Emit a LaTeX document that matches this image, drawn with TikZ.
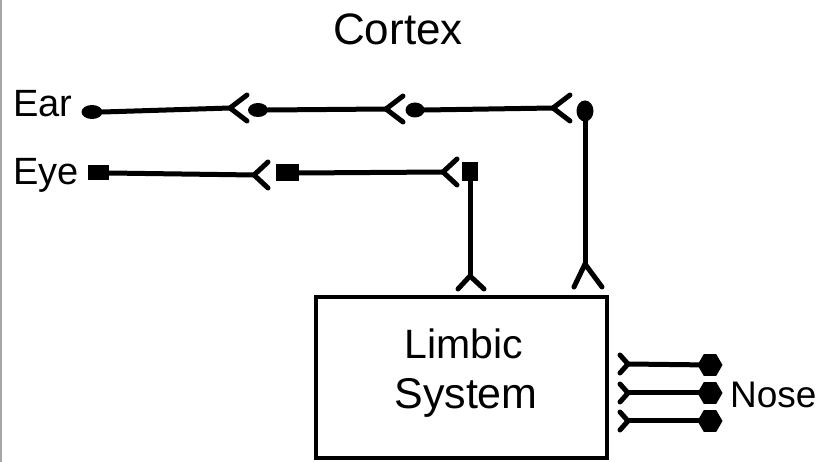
\documentclass[tikz,border=0pt]{standalone}
\usepackage{fontspec}
\setmainfont{Liberation Sans}
\usetikzlibrary{shapes.geometric,calc}
\begin{document}
\begin{tikzpicture}[x=1pt,y=-1pt,
  conn/.style={line width=5pt,line cap=round,line join=round},
  lab/.style={inner sep=0pt,font=\fontsize{38}{42}\selectfont},
  bigl/.style={inner sep=0pt,font=\fontsize{41}{46}\selectfont},
  oval/.style={ellipse,fill=black,inner sep=0pt},
  sq/.style={rectangle,fill=black,inner sep=0pt},
  hexa/.style={regular polygon,regular polygon sides=6,fill=black,inner sep=0pt,minimum size=25pt}]
\useasboundingbox (0,0) rectangle (823,462);
\draw[gray!70,line width=1.5pt] (1,0) -- (1,462);
% labels
\node[inner sep=0pt,font=\fontsize{44}{50}\selectfont,anchor=base] (cortex) at (398,45) {Cortex};
\node[lab,anchor=base west] (ear) at (13,117) {Ear};
\node[lab,anchor=base west] (eye) at (13,185) {Eye};
% box
\node[draw,line width=3.2pt,minimum width=291pt,minimum height=161pt,inner sep=0pt] (box) at (461.5,377.5) {};
\node[bigl,anchor=base] (limbic) at (464,359) {Limbic};
\node[inner sep=0pt,font=\fontsize{43}{46}\selectfont,anchor=base] (system) at (466,409) {System};
\node[inner sep=0pt,font=\fontsize{37}{42}\selectfont,anchor=base west] (nose) at (730,408) {Nose};
% Ear chain
\node[oval,minimum width=21pt,minimum height=14pt] (e1) at (92,112) {};
\node[oval,minimum width=20pt,minimum height=14pt] (e2) at (258,110) {};
\node[oval,minimum width=19pt,minimum height=15pt] (e3) at (415,110) {};
\node[oval,minimum width=17pt,minimum height=21pt] (e4) at (585,111) {};
\coordinate (f1) at (230,108);
\coordinate (f2) at (386,109);
\coordinate (f3) at (553,108);
\coordinate (f4) at (585,264);
\draw[conn] (e1.east) -- (f1);
\draw[conn] (e2.east) -- (f2);
\draw[conn] (e3.east) -- (f3);
\draw[conn] (e4.south) -- (f4);
\foreach \v in {f1,f2,f3}{
  \draw[conn] ($(\v)+(17,-13)$) -- (\v) -- ($(\v)+(17,13)$);
}
\draw[conn] ($(f4)+(-11,23)$) -- (f4) -- ($(f4)+(17,23)$);
% Eye chain
\node[sq,minimum width=21pt,minimum height=15pt] (s1) at (98,173) {};
\node[sq,minimum width=23pt,minimum height=17pt] (s2) at (287,173) {};
\node[sq,minimum width=16pt,minimum height=19pt] (s3) at (470,172) {};
\coordinate (g1) at (254,175);
\coordinate (g2) at (443,172);
\coordinate (g3) at (470,276);
\draw[conn] (s1.east) -- (g1);
\draw[conn] (s2.east) -- (g2);
\draw[conn] (s3.south) -- (g3);
\foreach \v in {g1,g2}{
  \draw[conn] ($(\v)+(14,-13)$) -- (\v) -- ($(\v)+(14,13)$);
}
\draw[conn] ($(g3)+(-12,13)$) -- (g3) -- ($(g3)+(14,13)$);
% Nose chain
\node[hexa] (h1) at (710,365) {};
\node[hexa] (h2) at (710,393) {};
\node[hexa] (h3) at (710,421) {};
\coordinate (n1) at (628,364);
\coordinate (n2) at (628,393);
\coordinate (n3) at (628,421);
\draw[conn] (n1) -- (h1.center);
\draw[conn] (n2) -- (h2.center);
\draw[conn] (n3) -- (h3.center);
\foreach \v in {n1,n2,n3}{
  \draw[conn] ($(\v)+(-8,-9)$) -- (\v) -- ($(\v)+(-8,9)$);
}
\end{tikzpicture}
\end{document}
